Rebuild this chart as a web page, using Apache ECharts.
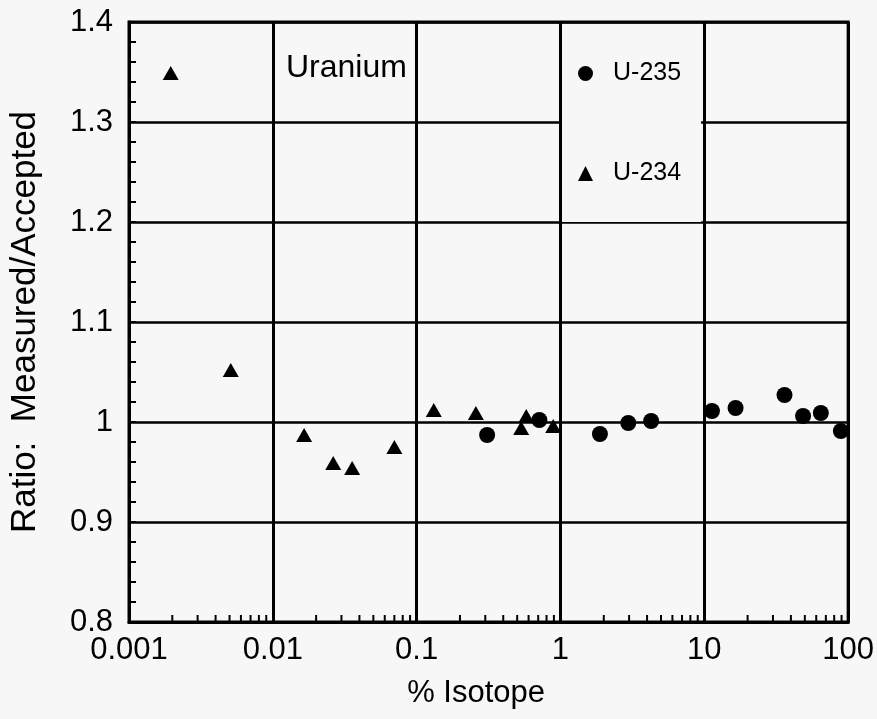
<!DOCTYPE html>
<html>
<head>
<meta charset="utf-8">
<script src="https://cdn.jsdelivr.net/npm/echarts@6/dist/echarts.min.js"></script>
<style>
  html, body { margin: 0; padding: 0; background: #f7f7f7; }
  #chart { width: 877px; height: 719px; }
</style>
</head>
<body>
<div id="chart"></div>
<script>
// 刻度
const xTickLabels = ['0.001', '0.01', '0.1', '1', '10', '100']
const yTickLabels = ['0.8', '0.9', '1', '1.1', '1.2', '1.3', '1.4']

// U-235 (circles)
const u235X = [0.309, 0.713, 1.88, 2.96, 4.27, 11.3, 16.5, 36.1, 48.6, 64.6, 89]
const u235Y = [0.987, 1.002, 0.988, 0.999, 1.001, 1.011, 1.014, 1.027, 1.006, 1.009, 0.991]

// U-234 (triangles)
const u234X = [0.00195, 0.0051, 0.0165, 0.0263, 0.0356, 0.070, 0.1315, 0.258, 0.578, 0.533, 0.89]
const u234Y = [1.349, 1.052, 0.987, 0.959, 0.954, 0.975, 1.012, 1.009, 1.006, 0.994, 0.996]

// log 轴的小刻度 2..9
const xMinor = []
for (let d = -3; d < 2; d++) {
  for (let m = 2; m <= 9; m++) xMinor.push(m * Math.pow(10, d))
}

const font = '"Liberation Sans", Arial, Helvetica, sans-serif'

const myChart = echarts.init(document.querySelector('#chart'))

const option = {
  backgroundColor: '#f7f7f7',
  animation: false,
  textStyle: { fontFamily: font, color: '#000' },
  title: {
    text: 'Uranium',
    left: 281,
    top: 47,
    textStyle: { fontSize: 32, fontWeight: 'normal', color: '#000', fontFamily: font }
  },
  legend: {
    orient: 'vertical',
    left: 562,
    top: 24,
    padding: [37, 20, 36, 16],
    itemWidth: 15,
    itemHeight: 15,
    itemGap: 75,
    backgroundColor: '#f7f7f7',
    itemStyle: { opacity: 1 },
    textStyle: { fontSize: 25, lineHeight: 24, color: '#000', fontFamily: font, padding: [0, 0, 0, 15] },
    data: ['U-235', 'U-234']
  },
  grid: {
    left: 127,
    right: 25,
    top: 22,
    bottom: 97,
    show: true,
    borderColor: '#000',
    borderWidth: 3
  },
  xAxis: {
    type: 'log',
    logBase: 10,
    min: 0.001,
    max: 100,
    name: '% Isotope',
    nameLocation: 'middle',
    nameGap: 56,
    nameTextStyle: { fontSize: 31, color: '#000', fontFamily: font, padding: [0, 25, 0, 0] },
    axisLine: { lineStyle: { color: '#000', width: 3 } },
    axisTick: { show: false },
    axisLabel: {
      fontSize: 31,
      color: '#000',
      margin: 13,
      formatter: function (v) {
        return xTickLabels[Math.round(Math.log10(v)) + 3]
      }
    },
    splitLine: { show: true, lineStyle: { color: '#000', width: 3 } }
  },
  yAxis: {
    type: 'value',
    min: 0.8,
    max: 1.4,
    interval: 0.1,
    name: 'Ratio:  Measured/Accepted',
    nameLocation: 'middle',
    nameGap: 86,
    nameTextStyle: { fontSize: 35, color: '#000', fontFamily: font, padding: [0, 0, 0, 0] },
    axisLine: { lineStyle: { color: '#000', width: 3 } },
    axisTick: { show: true, inside: true, length: 7, lineStyle: { color: '#000', width: 2 } },
    minorTick: { show: true, splitNumber: 5, length: 7, lineStyle: { color: '#000', width: 2 } },
    axisLabel: {
      fontSize: 31,
      color: '#000',
      margin: 16,
      formatter: function (v) {
        return yTickLabels[Math.round((v - 0.8) * 10)]
      }
    },
    splitLine: { show: true, lineStyle: { color: '#000', width: 2.5 } }
  },
  series: [
    {
      name: 'U-235',
      type: 'scatter',
      symbol: 'circle',
      symbolSize: 16,
      itemStyle: { color: '#000', opacity: 1 },
      z: 5,
      data: u235X.map((x, i) => [x, u235Y[i]])
    },
    {
      name: 'U-234',
      type: 'scatter',
      symbol: 'triangle',
      symbolSize: [16, 14],
      itemStyle: { color: '#000', opacity: 1 },
      z: 5,
      data: u234X.map((x, i) => [x, u234Y[i]])
    },
    {
      // x 轴小刻度
      type: 'custom',
      silent: true,
      z: 4,
      data: xMinor.map(v => [v, 0.8]),
      renderItem: function (params, api) {
        const p = api.coord([api.value(0), api.value(1)])
        return {
          type: 'line',
          shape: { x1: p[0], y1: p[1], x2: p[0], y2: p[1] - 7 },
          style: { stroke: '#000', lineWidth: 2 }
        }
      }
    }
  ]
}

myChart.setOption(option)
</script>
</body>
</html>
